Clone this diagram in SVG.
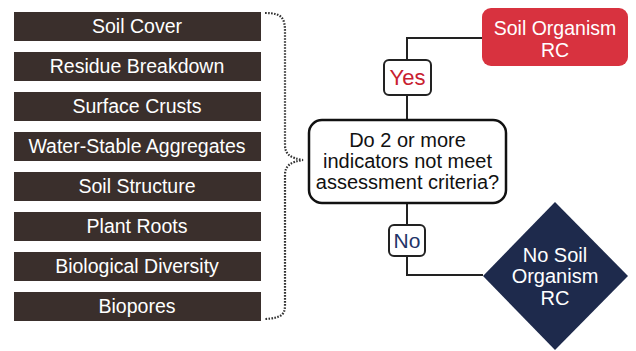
<svg xmlns="http://www.w3.org/2000/svg" width="636" height="351" viewBox="0 0 636 351">
<style>
.ind rect{fill:#3a2f2c}
.ind text{fill:#fff;font-family:"Liberation Sans",Arial,sans-serif;font-size:19.5px;text-anchor:middle}
.t{font-family:"Liberation Sans",Arial,sans-serif;text-anchor:middle}
.conn{fill:none;stroke:#222;stroke-width:2}
</style>
<rect width="636" height="351" fill="#fff"/>
<g id="ind1" class="ind"><rect x="14" y="12" width="247" height="29"/><text x="137" y="33">Soil Cover</text></g>
<g id="ind2" class="ind"><rect x="14" y="52" width="247" height="29"/><text x="137" y="73">Residue Breakdown</text></g>
<g id="ind3" class="ind"><rect x="14" y="92" width="247" height="29"/><text x="137" y="113">Surface Crusts</text></g>
<g id="ind4" class="ind"><rect x="14" y="132" width="247" height="29"/><text x="137" y="153">Water-Stable Aggregates</text></g>
<g id="ind5" class="ind"><rect x="14" y="172" width="247" height="29"/><text x="137" y="193">Soil Structure</text></g>
<g id="ind6" class="ind"><rect x="14" y="212" width="247" height="29"/><text x="137" y="233">Plant Roots</text></g>
<g id="ind7" class="ind"><rect x="14" y="252" width="247" height="29"/><text x="137" y="273">Biological Diversity</text></g>
<g id="ind8" class="ind"><rect x="14" y="292" width="247" height="29"/><text x="137" y="313">Biopores</text></g>
<g id="connectors">
<path d="M265,13 C282,13 285,18 285,32 L285,145 C285,154 290,158 303,160 C290,162 285,166 285,175 L285,305 C285,315 281,318 265,319" fill="none" stroke="#333" stroke-width="2.2" stroke-dasharray="1.6 1.4"/>
<path class="conn" d="M407,120 V95 M407,60 V38 H482"/>
<path class="conn" d="M407,203 V225 M407,256 V275 H483"/>
</g>
<g id="decision">
<rect x="309" y="120" width="197" height="83" rx="13" fill="#fff" stroke="#111" stroke-width="2.5"/>
<text class="t" x="407.5" y="147" font-size="20" fill="#111">Do 2 or more</text>
<text class="t" x="407.5" y="168" font-size="20" fill="#111">indicators not meet</text>
<text class="t" x="407.5" y="189" font-size="20" fill="#111">assessment criteria?</text>
</g>
<g id="yes">
<rect x="384" y="60" width="47" height="35" rx="5" fill="#fff" stroke="#222" stroke-width="2"/>
<text class="t" x="407.5" y="85" font-size="22" fill="#c8202f">Yes</text>
</g>
<g id="no">
<rect x="389" y="225" width="36" height="31" rx="5" fill="#fff" stroke="#222" stroke-width="2"/>
<text class="t" x="407" y="248" font-size="21" fill="#1f3468">No</text>
</g>
<g id="soilrc">
<rect x="482" y="8" width="146" height="58" rx="9" fill="#d8323f"/>
<text class="t" x="555" y="35" font-size="19.5" fill="#fff">Soil Organism</text>
<text class="t" x="555" y="57" font-size="19.5" fill="#fff">RC</text>
</g>
<g id="nosoilrc">
<polygon points="555,202 628,276 555,350 483,276" fill="#1e2a4c"/>
<text class="t" x="555" y="262" font-size="20" fill="#fff">No Soil</text>
<text class="t" x="555" y="283" font-size="20" fill="#fff">Organism</text>
<text class="t" x="555" y="305" font-size="20" fill="#fff">RC</text>
</g>
</svg>
